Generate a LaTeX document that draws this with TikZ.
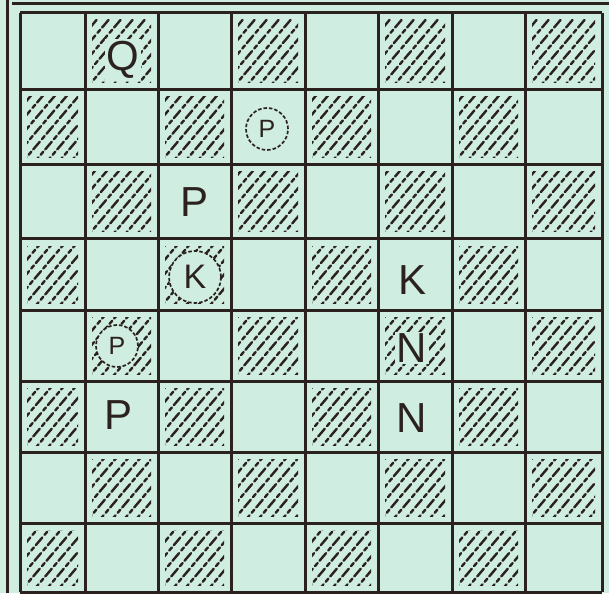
\documentclass[tikz,border=0pt]{standalone}
\usepackage{fontspec}
\setmainfont{Liberation Sans}
\definecolor{paper}{HTML}{CFEDE0}
\definecolor{ink}{HTML}{2B221F}
\tikzset{
  gridline/.style={
    draw=ink,
    line width=3pt
  },
  hatchline/.style={
    draw=ink,
    line width=2.4pt,
    line cap=round,
    dash pattern=on 10pt off 3.5pt on 4pt off 3pt
  },
  piece/.style={
    text=ink,
    fill=paper,
    font=\fontsize{42}{42}\selectfont,
    inner sep=2pt
  },
  ringpiece/.style={
    circle,
    draw=ink,
    line width=1.7pt,
    dash pattern=on 3.5pt off 2pt,
    fill=paper,
    text=ink,
    inner sep=0pt,
    minimum size=#1
  },
  ringpiece/.default=44pt
}

\begin{document}
\begin{tikzpicture}[x=1pt,y=-1pt]

% Paper
\fill[paper] (0,0) rectangle (609,593);
\useasboundingbox (0,0) rectangle (609,593);

% ---------- Hatched (dark) squares ----------
\foreach \c/\xa/\xb in {0/20/85,1/85/158,2/158/231,3/231/305,4/305/378,5/378/452,6/452/525,7/525/602}{
  \foreach \r/\ya/\yb in {0/13/90,1/90/165,2/165/239,3/239/310,4/310/381,5/381/452,6/452/523,7/523/592}{
    \pgfmathtruncatemacro{\odd}{mod(\c+\r,2)}
    \ifnum\odd=1
      \begin{scope}
        \clip (\xa+7,\ya+7) rectangle (\xb-7,\yb-7);
        \foreach \k in {-84,-72,...,84}
          \draw[hatchline] (\xa+\k,\yb) -- ++(68,-80);
      \end{scope}
    \fi
  }
}

% ---------- Board lines ----------
\foreach \x in {20,85,158,231,305,378,452,525,602}
  \draw[gridline] (\x,13) -- (\x,592);
\foreach \y in {13,90,165,239,310,381,452,523,592}
  \draw[gridline] (20,\y) -- (602,\y);

% outer frame
\draw[gridline] (7,0) -- (7,593);
\draw[gridline] (12,4) -- (609,4);

% ---------- Pieces ----------
\node[piece] (queenb8) at (123,60) {Q};
\node[ringpiece=42pt, font=\fontsize{25}{25}\selectfont] (ringpd7) at (267,129) {P};
\node[piece] (pawnc6) at (195,202) {P};
\node[ringpiece=52pt, font=\fontsize{34}{34}\selectfont] (ringkc5) at (195,277) {K};
\node[piece] (kingf5) at (412,280) {K};
\node[ringpiece=42pt, font=\fontsize{25}{25}\selectfont] (ringpb4) at (117,346) {P};
\node[piece] (knightf4) at (412,348) {N};
\node[piece] (pawnb3) at (119,415) {P};
\node[piece] (knightf3) at (412,418) {N};

\end{tikzpicture}
\end{document}
